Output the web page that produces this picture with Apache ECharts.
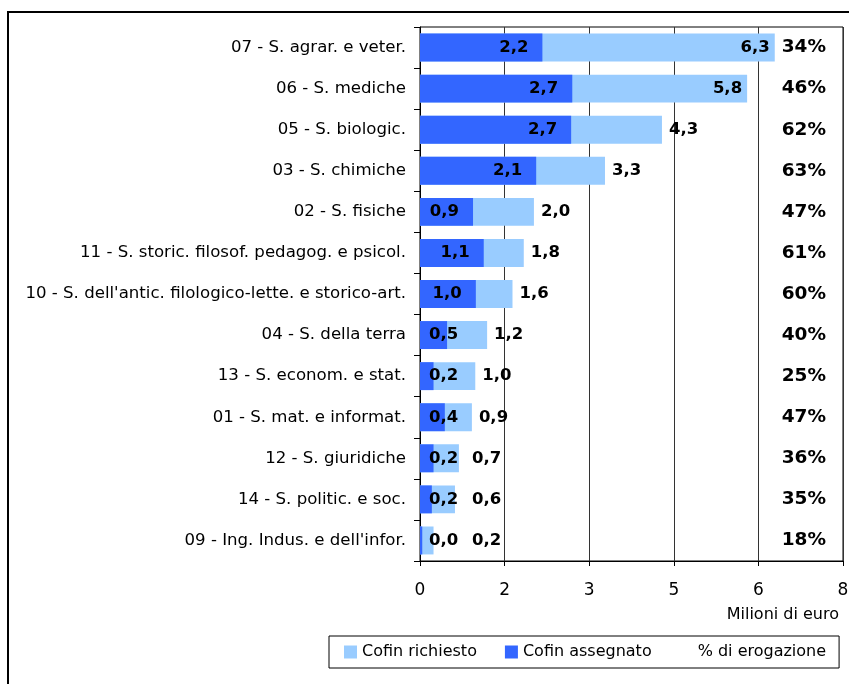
<!DOCTYPE html>
<html>
<head>
<meta charset="utf-8">
<script src="https://cdn.jsdelivr.net/npm/echarts@6/dist/echarts.min.js"></script>
<style>
html,body{margin:0;padding:0;background:#fff;}
#chart{width:849px;height:684px;}
</style>
</head>
<body>
<div id="chart"></div>
<script>
const categories = [
  '07 - S. agrar. e veter.',
  '06 - S. mediche',
  '05 - S. biologic.',
  '03 - S. chimiche',
  '02 - S. fisiche',
  '11 - S. storic. filosof. pedagog. e psicol.',
  "10 - S. dell'antic. filologico-lette. e storico-art.",
  '04 - S. della terra',
  '13 - S. econom. e stat.',
  '01 - S. mat. e informat.',
  '12 - S. giuridiche',
  '14 - S. politic. e soc.',
  "09 - Ing. Indus. e dell'infor."
];
const richiesto = [6.29, 5.80, 4.29, 3.28, 2.02, 1.84, 1.64, 1.19, 0.98, 0.92, 0.69, 0.62, 0.24];
const assegnato = [2.17, 2.70, 2.68, 2.06, 0.94, 1.13, 0.99, 0.48, 0.24, 0.44, 0.24, 0.21, 0.04];
const erogazione = ['34%', '46%', '62%', '63%', '47%', '61%', '60%', '40%', '25%', '47%', '36%', '35%', '18%'];
const xMin = 0, xMax = 7.5, xStep = 1.5;
const xName = 'Milioni di euro';
const seriesNames = ['Cofin richiesto', 'Cofin assegnato', '% di erogazione'];

const FONT = "'DejaVu Sans', Verdana, sans-serif";
const fmt = v => v.toFixed(1).replace('.', ',');
const boldLabel = { fontFamily: FONT, fontWeight: 'bold', fontSize: 16.5, color: '#000' };

const chart = echarts.init(document.getElementById('chart'), null, { renderer: 'canvas' });
chart.setOption({
  animation: false,
  backgroundColor: '#fff',
  grid: {
    left: 420, right: 6, top: 27, bottom: 123,
    show: true, borderColor: '#000', borderWidth: 1,
    outerBoundsMode: 'none'
  },
  legend: {
    left: 329, top: 636,
    padding: [8, 13, 8, 15],
    borderColor: '#000', borderWidth: 1,
    itemWidth: 13, itemHeight: 13, itemGap: 28,
    selectedMode: false,
    textStyle: { fontFamily: FONT, fontSize: 16, color: '#000' },
    data: [
      { name: seriesNames[0], icon: 'rect' },
      { name: seriesNames[1], icon: 'rect' },
      { name: seriesNames[2], icon: 'rect', itemStyle: { opacity: 0 } }
    ]
  },
  xAxis: {
    type: 'value', min: xMin, max: xMax, interval: xStep,
    axisLine: { show: true, lineStyle: { color: '#000', width: 1 } },
    axisTick: { show: true, length: 5, lineStyle: { color: '#000' } },
    splitLine: { show: true, lineStyle: { color: '#333', width: 1 } },
    axisLabel: {
      margin: 21, fontFamily: FONT, fontSize: 17, color: '#000',
      formatter: v => String(Math.round(v))
    }
  },
  yAxis: [
    {
      type: 'category', data: categories, inverse: true,
      axisLine: { show: true, lineStyle: { color: '#000', width: 1 } },
      axisTick: { show: true, length: 6, lineStyle: { color: '#000' } },
      axisLabel: { margin: 14, fontFamily: FONT, fontSize: 16.6, color: '#000' }
    },
    {
      type: 'category', data: erogazione, inverse: true, position: 'right',
      axisLine: { show: false }, axisTick: { show: false }, splitLine: { show: false },
      axisLabel: {
        inside: true, margin: 17, fontFamily: FONT, fontWeight: 'bold',
        fontSize: 18.5, color: '#000', padding: [0, 0, 4, 0]
      }
    }
  ],
  series: [
    {
      name: seriesNames[0], type: 'bar', barWidth: '68%', barGap: '-100%',
      itemStyle: { color: '#99CCFF' },
      data: richiesto.map(v => ({
        value: v,
        label: v > 5 ? { position: 'insideRight', distance: 5 } : { position: 'right', distance: 7 }
      })),
      label: Object.assign({ show: true, formatter: p => fmt(p.value) }, boldLabel),
      labelLayout: p => {
        const minX = p.rect.x + 52;
        if (p.labelRect.x < minX) return { dx: minX - p.labelRect.x };
        return {};
      }
    },
    {
      name: seriesNames[1], type: 'bar', barWidth: '68%', barGap: '-100%',
      itemStyle: { color: '#3366FF' },
      data: assegnato.map(v => ({
        value: v,
        label: v < 0.8 ? { position: 'insideLeft', distance: 9 } : { position: 'insideRight', distance: 14 }
      })),
      label: Object.assign({ show: true, formatter: p => fmt(p.value) }, boldLabel)
    },
    {
      name: seriesNames[2], type: 'scatter', data: [], itemStyle: { color: '#fff' }
    }
  ],
  graphic: [
    {
      type: 'rect', z: -10, silent: true,
      shape: { x: 8, y: 12, width: 900, height: 700 },
      style: { fill: 'none', stroke: '#000', lineWidth: 2 }
    },
    {
      type: 'text', right: 10, top: 607,
      style: { text: xName, fontFamily: FONT, fontSize: 16, fill: '#000' }
    }
  ]
});
</script>
</body>
</html>
